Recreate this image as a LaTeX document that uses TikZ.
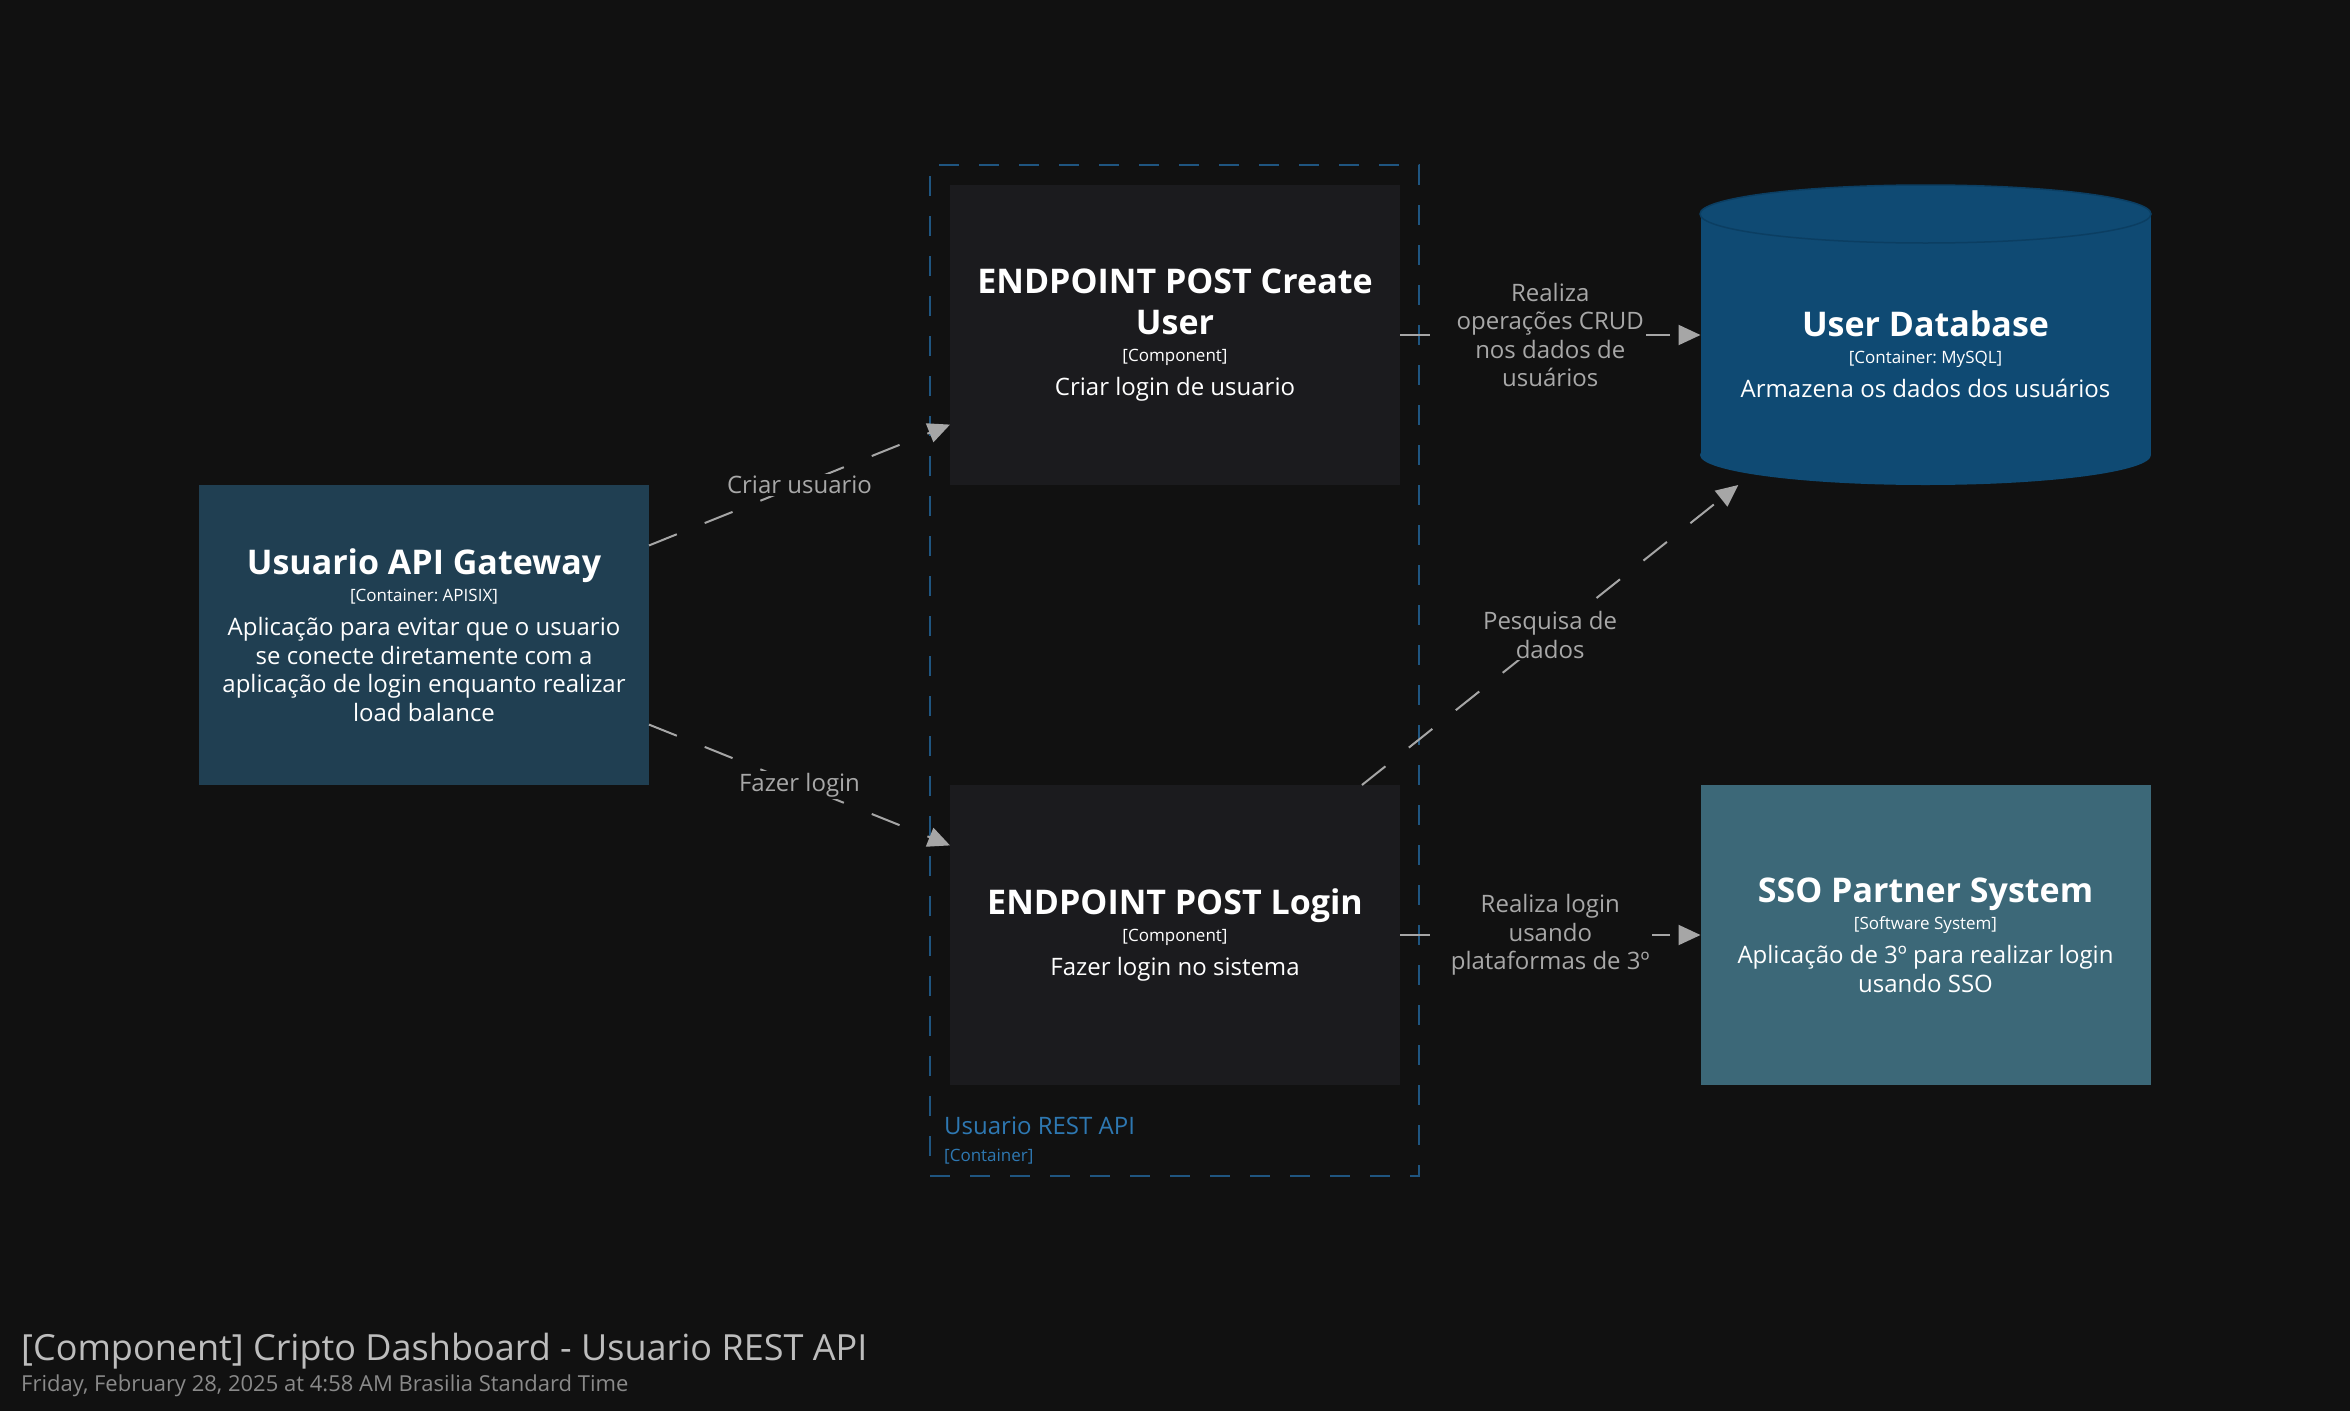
\documentclass[tikz,border=0pt]{standalone}
\usepackage{fontspec}
\setmainfont{Open Sans}
\usetikzlibrary{arrows.meta}

\definecolor{bg}{HTML}{111111}
\definecolor{gwfill}{HTML}{203F52}
\definecolor{compfill}{HTML}{1B1B1E}
\definecolor{dbfill}{HTML}{0F4A73}
\definecolor{dbline}{HTML}{0B3E62}
\definecolor{ssofill}{HTML}{3C6878}
\definecolor{bndline}{HTML}{1F5580}
\definecolor{bndtext}{HTML}{2E78B2}
\definecolor{relline}{HTML}{A6A6A6}
\definecolor{reltext}{HTML}{A8A8A8}
\definecolor{titletext}{HTML}{BDBDBD}
\definecolor{datetext}{HTML}{8A8A8A}

\newcommand{\fixspace}{\spaceskip=\fontdimen2\font\relax\xspaceskip=\fontdimen2\font\relax}
\newcommand{\elname}[1]{{\fontsize{34}{41}\selectfont\bfseries\fixspace #1\par}}
\newcommand{\elmeta}[1]{{\fontsize{17}{27}\selectfont\fixspace #1\par}}
\newcommand{\eldesc}[1]{{\vspace{6pt}\fontsize{24}{28.5}\selectfont\fixspace #1\par}}

\tikzset{
  elbox/.style={minimum width=450pt, minimum height=300pt, inner sep=0pt, outer sep=0pt, text width=436pt, align=center, text=white},
  rel/.style={draw=relline, line width=2pt, dash pattern=on 30pt off 30pt, -{Triangle[length=22pt,width=20pt]}},
  rellabel/.style={fill=bg, text=reltext, font=\fontsize{24}{28.5}\selectfont, align=center, inner sep=2pt, solid},
}

\begin{document}
\begin{tikzpicture}[x=1pt,y=-1pt]
\useasboundingbox[fill=bg] (0,0) rectangle (2350,1411);

\node (bnd) at (1174.5,670.5)[draw=bndline, line width=2pt, dash pattern=on 20pt off 20pt, minimum width=489pt, minimum height=1011pt, inner sep=0pt]{};
\node (bndlabel) [anchor=south west, inner sep=0pt, align=left, text=bndtext, font=\fontsize{24}{27}\selectfont] at ([xshift=15pt,yshift=13pt]bnd.south west)
  {Usuario REST API\\{\fontsize{17}{20}\selectfont [Container]}};

\node (gw) at (424,635)[elbox, fill=gwfill]
  {\elname{Usuario API Gateway}\elmeta{[Container: APISIX]}\eldesc{Aplicação para evitar que o usuario\\ se conecte diretamente com a\\ aplicação de login enquanto realizar\\ load balance}};
\node (cu) at (1175,335)[elbox, fill=compfill]
  {\elname{ENDPOINT POST Create\\ User}\elmeta{[Component]}\eldesc{Criar login de usuario}};
\node (lg) at (1175,935)[elbox, fill=compfill]
  {\elname{ENDPOINT POST Login}\elmeta{[Component]}\eldesc{Fazer login no sistema}};
\node (sso) at (1925.5,935)[elbox, fill=ssofill]
  {\elname{SSO Partner System}\elmeta{[Software System]}\eldesc{Aplicação de 3º para realizar login\\ usando SSO}};

\node (db) at (1925.5,335)[elbox]{};
\fill[dbfill] ([yshift=-29pt]db.north west) rectangle ([yshift=30pt]db.south east);
\fill[dbfill] ([yshift=30pt]db.south) ellipse [x radius=225.5pt, y radius=30pt];
\filldraw[fill=dbfill, draw=dbline, line width=1.5pt] ([yshift=-29pt]db.north) ellipse [x radius=225.5pt, y radius=29pt];
\node (dbtext) at ([yshift=-19pt]db.center)[elbox, minimum height=0pt]
  {\elname{User Database}\elmeta{[Container: MySQL]}\eldesc{Armazena os dados dos usuários}};

\draw[rel] (gw) -- node[rellabel]{Criar usuario} (cu);
\draw[rel] (gw) -- node[rellabel]{Fazer login} (lg);
\draw[rel] (cu) -- node[rellabel]{Realiza\\ operações CRUD\\ nos dados de\\ usuários} (db);
\draw[rel] (lg) -- node[rellabel]{Pesquisa de\\ dados} (db);
\draw[rel] (lg) -- node[rellabel]{Realiza login\\ usando\\ plataformas de 3º} (sso);

\node (title) [anchor=base west, inner sep=0pt, text=titletext, font=\fontsize{36}{43}\selectfont] at (21,1360) {[Component] Cripto Dashboard - Usuario REST API};
\node (date) [anchor=base west, inner sep=0pt, text=datetext, font=\fontsize{22}{26}\selectfont] at (21,1391) {Friday, February 28, 2025 at 4:58 AM Brasilia Standard Time};
\end{tikzpicture}
\end{document}
